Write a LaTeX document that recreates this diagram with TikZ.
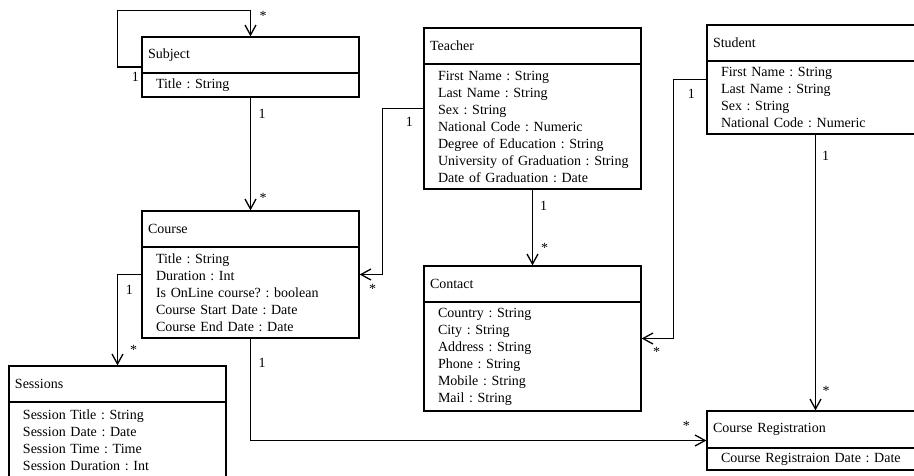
\documentclass[tikz,border=0pt]{standalone}
\usepackage{fontspec}
\setmainfont{Liberation Serif}
\frenchspacing
\usetikzlibrary{positioning,fit,arrows.meta}
\begin{document}
\begin{tikzpicture}[x=1pt, y=-1pt, line width=1.3pt,
  head/.style = {draw, anchor=north west, outer sep=0pt, minimum height=36pt, text width=205pt, inner xsep=6pt, align=left, font=\fontsize{14}{17}\selectfont\frenchspacing},
  attrs/.style = {draw, outer sep=0pt, text width=189pt, inner xsep=14pt, inner ysep=3pt, align=left, font=\fontsize{14}{17}\selectfont\frenchspacing},
  whole/.style = {fit=#1, inner sep=0pt},
  link/.style = {-{Straight Barb[length=10pt,width=11pt]}},
  mult/.style = {inner sep=0pt, font=\fontsize{14}{17}\selectfont}]
  \useasboundingbox (0,0) rectangle (914,475);
  % classes
  \node[head] (subject-h) at (142,37) {Subject};
  \node[attrs, minimum height=24pt] (subject-a) [below=0pt of subject-h] {Title : String};
  \node[head] (course-h) at (142,211) {Course};
  \node[attrs, minimum height=91pt] (course-a) [below=0pt of course-h] {Title : String\\ Duration : Int\\ Is OnLine course? : boolean\\ Course Start Date : Date\\ Course End Date : Date};
  \node[head] (sessions-h) at (9,366) {Sessions};
  \node[attrs, minimum height=77pt] (sessions-a) [below=0pt of sessions-h] {Session Title : String\\ Session Date : Date\\ Session Time : Time\\ Session Duration : Int};
  \node[head] (teacher-h) at (424,28) {Teacher};
  \node[attrs, minimum height=125pt] (teacher-a) [below=0pt of teacher-h] {First Name : String\\ Last Name : String\\ Sex : String\\ National Code : Numeric\\ Degree of Education : String\\ \mbox{University of Graduation : String}\\ Date of Graduation : Date};
  \node[head] (contact-h) at (424,266) {Contact};
  \node[attrs, minimum height=109pt] (contact-a) [below=0pt of contact-h] {Country : String\\ City : String\\ Address : String\\ Phone : String\\ Mobile : String\\ Mail : String};
  \node[head] (student-h) at (707,25) {Student};
  \node[attrs, minimum height=73pt] (student-a) [below=0pt of student-h] {First Name : String\\ Last Name : String\\ Sex : String\\ National Code : Numeric};
  \node[head, minimum height=37pt] (registration-h) at (707,411) {Course Registration};
  \node[attrs, minimum height=22pt] (registration-a) [below=0pt of registration-h] {Course Registraion Date : Date};
  % whole class outlines
  \node[whole={(subject-h)(subject-a)}] (subject) {};
  \node[whole={(course-h)(course-a)}] (course) {};
  \node[whole={(sessions-h)(sessions-a)}] (sessions) {};
  \node[whole={(teacher-h)(teacher-a)}] (teacher) {};
  \node[whole={(contact-h)(contact-a)}] (contact) {};
  \node[whole={(student-h)(student-a)}] (student) {};
  \node[whole={(registration-h)(registration-a)}] (registration) {};
  % associations
  \draw[link] (subject.west) -- ++(-24,0) |- ([yshift=26pt]subject.north) -- (subject.north);
  \draw[link] (subject.south) -- (course.north);
  \draw[link] (course.west) -| (sessions.north);
  \draw[link] (course.south) |- (registration.west);
  \draw[link] (teacher.west) -- ++(-41,0) |- (course.east);
  \draw[link] (teacher.south) -- (contact.north);
  \draw[link] (student.west) -- ++(-33,0) |- (contact.east);
  \draw[link] (student.south) -- (registration.north);
  % multiplicities
  \node[mult] (m1) at ([xshift=-6pt,yshift=-10pt]subject.west) {1};
  \node[mult] (m2) at ([xshift=12.5pt,yshift=20pt]subject.north) {*};
  \node[mult] (m3) at ([xshift=11.5pt,yshift=-16pt]subject.south) {1};
  \node[mult] (m4) at ([xshift=12.5pt,yshift=12pt]course.north) {*};
  \node[mult] (m5) at ([xshift=-12pt,yshift=-15.5pt]course.west) {1};
  \node[mult] (m6) at ([xshift=16pt,yshift=15pt]sessions.north) {*};
  \node[mult] (m7) at ([xshift=11.5pt,yshift=-24pt]course.south) {1};
  \node[mult] (m8) at ([xshift=-20pt,yshift=15pt]registration.west) {*};
  \node[mult] (m9) at ([xshift=-14pt,yshift=-13.5pt]teacher.west) {1};
  \node[mult] (m10) at ([xshift=13pt,yshift=-14pt]course.east) {*};
  \node[mult] (m11) at ([xshift=11pt,yshift=-16pt]teacher.south) {1};
  \node[mult] (m12) at ([xshift=12pt,yshift=17pt]contact.north) {*};
  \node[mult] (m13) at ([xshift=-15pt,yshift=-14pt]student.west) {1};
  \node[mult] (m14) at ([xshift=15pt,yshift=-13pt]contact.east) {*};
  \node[mult] (m15) at ([xshift=10pt,yshift=-21pt]student.south) {1};
  \node[mult] (m16) at ([xshift=10.5pt,yshift=19pt]registration.north) {*};
\end{tikzpicture}
\end{document}
